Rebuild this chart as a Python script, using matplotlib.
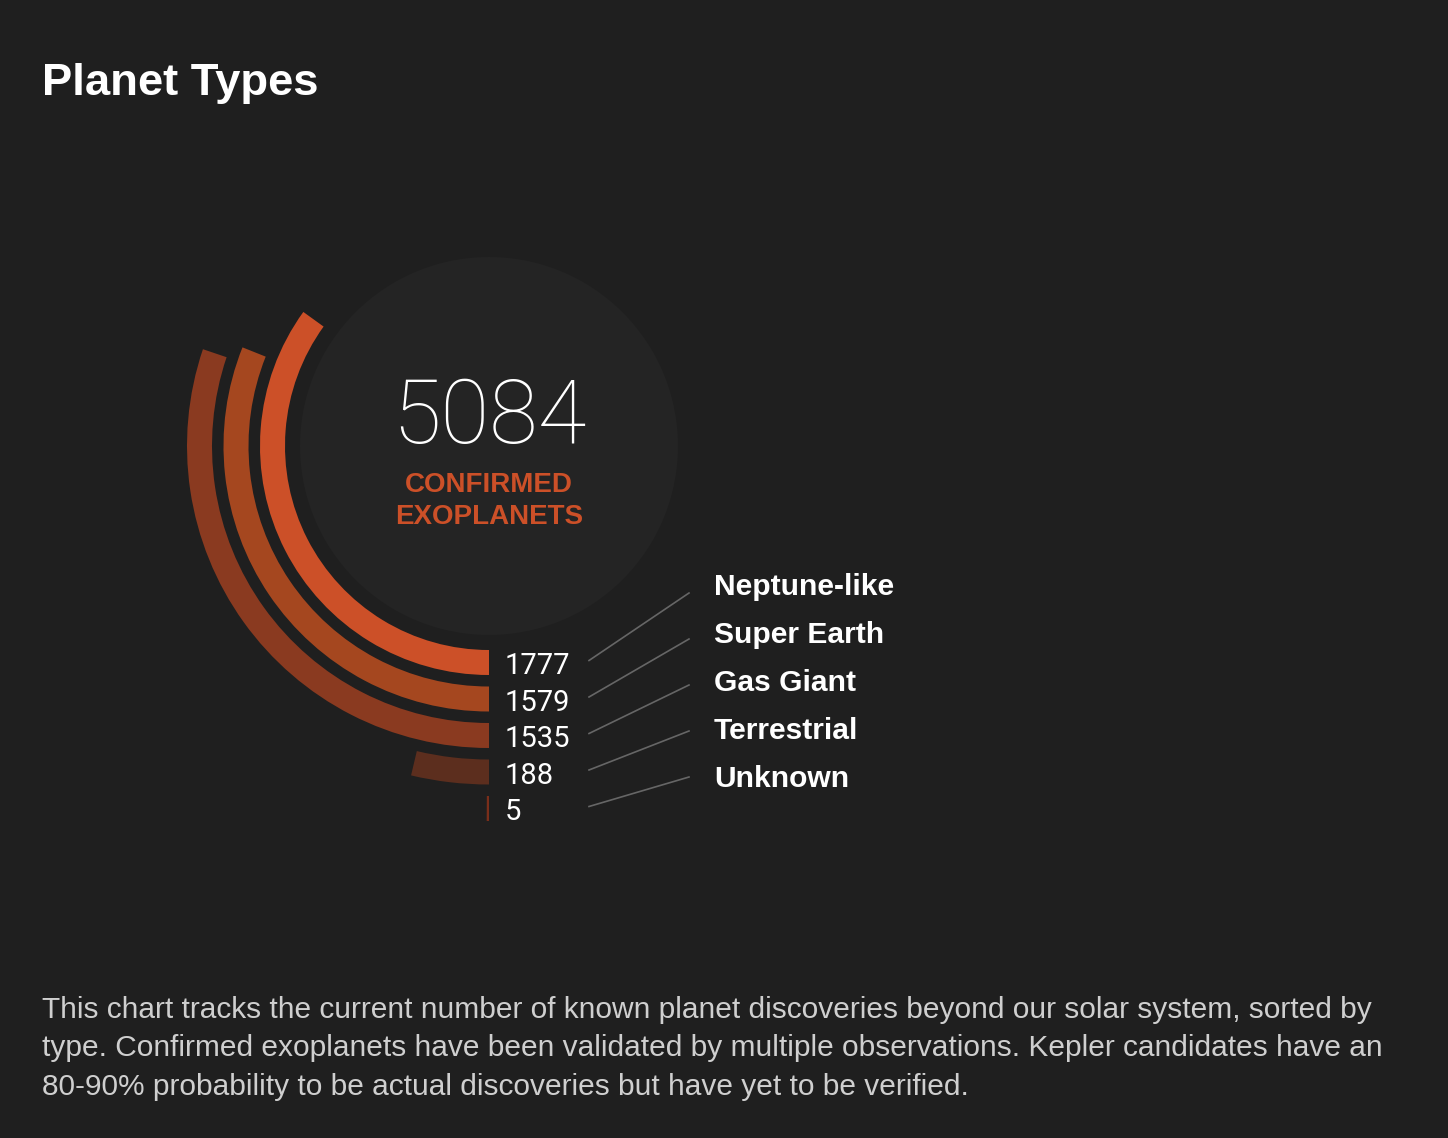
import numpy as np
import matplotlib
matplotlib.use("Agg")
import matplotlib.pyplot as plt

# data
categories = ["Neptune-like", "Super Earth", "Gas Giant", "Terrestrial", "Unknown"]
counts = [1777, 1579, 1535, 188, 5]
total = 5084
bar_colors = ["#cc5028", "#a5471f", "#8a3a20", "#5c2e1e", "#7a2e1a"]

title = "Planet Types"
center_label = ["CONFIRMED", "EXOPLANETS"]
caption_lines = [
    "This chart tracks the current number of known planet discoveries beyond our solar system, sorted by",
    "type. Confirmed exoplanets have been validated by multiple observations. Kepler candidates have an",
    "80-90% probability to be actual discoveries but have yet to be verified.",
]

W, H = 1448, 1138
bg = "#1f1f1f"
cx, cy = 489, 446        # centre of the rings, pixels from top-left
half = 400               # polar axes half size in pixels (= rmax)
r0 = 204                 # inner radius of first ring
thick = 25
step = 36.5

fig = plt.figure(figsize=(W / 100, H / 100), dpi=100, facecolor=bg)

# rings on a polar axes
pax = fig.add_axes([(cx - half) / W, (H - cy - half) / H, 2 * half / W, 2 * half / H],
                   projection="polar")
pax.set_theta_zero_location("S")
pax.set_theta_direction(-1)
pax.set_ylim(0, half)
pax.set_facecolor("none")
pax.axis("off")

pax.bar(0, 189, width=2 * np.pi, bottom=0, align="edge", color="#242424", linewidth=0)
for i, (n, c) in enumerate(zip(counts, bar_colors)):
    theta = n / total * 2 * np.pi
    pax.bar(0, thick, width=theta, bottom=r0 + i * step, align="edge", color=c, linewidth=0)

# text overlay in pixel coordinates
ax = fig.add_axes([0, 0, 1, 1])
ax.set_xlim(0, W)
ax.set_ylim(H, 0)
ax.axis("off")

ax.text(42, 95, title, color="white", fontsize=32.7, fontweight="bold",
        family="Liberation Sans", va="baseline")

ax.text(cx, 443, str(total), color="white", fontsize=64, fontweight="light",
        family="Roboto", ha="center", va="baseline")
ax.text(cx, 492, center_label[0], color="#cc5028", fontsize=20, fontweight="bold",
        family="Liberation Sans", ha="center", va="baseline")
ax.text(cx, 524, center_label[1], color="#cc5028", fontsize=20, fontweight="bold",
        family="Liberation Sans", ha="center", va="baseline")

for i, (name, n) in enumerate(zip(categories, counts)):
    r_in = r0 + i * step
    ax.text(505, cy + r_in + thick - 1, str(n), color="white", fontsize=21,
            fontweight="normal", family="Roboto", va="baseline")
    ax.plot([589, 689], [cy + r_in + thick / 2 - 2, 593 + 46 * i], color="#666666", lw=1.2)
    ax.text(714, 595 + 48 * i, name, color="white", fontsize=21.6, fontweight="bold",
            family="Liberation Sans", va="baseline")

for k, line in enumerate(caption_lines):
    ax.text(42, 1018 + 38.5 * k, line, color="#cfcfcf", fontsize=21.5,
            family="Liberation Sans", va="baseline")

fig.savefig("out.png", dpi=100, facecolor=bg)
